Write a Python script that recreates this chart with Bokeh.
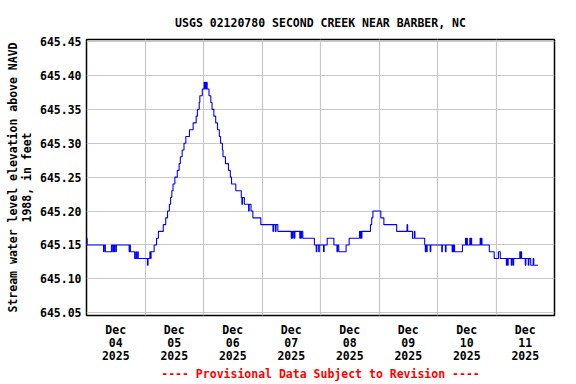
from bokeh.plotting import figure
from bokeh.models import Range1d, FixedTicker, PrintfTickFormatter
from bokeh.embed import file_html
from bokeh.resources import INLINE

# Hours after Dec 04 2025 00:00 at which the gauge reading changes, and the reading (ft)
step_hours = [
    0, 0.25, 7.0, 7.25, 7.75, 10.25, 10.75, 11.0, 11.25, 11.5, 12.0, 12.25,
    17.5, 17.75, 18.0, 19.75, 20.25, 20.5, 21.0, 21.25, 25.0, 25.25, 26.0, 26.25,
    26.5, 27.75, 28.75, 29.5, 31.5, 32.5, 33.25, 34.0, 34.5, 35.0, 35.5, 36.25,
    37.25, 38.0, 38.5, 39.25, 40.0, 40.75, 42.25, 43.75, 45.0, 45.5, 46.25, 46.5,
    47.5, 48.25, 48.5, 48.75, 49.0, 49.25, 49.5, 50.25, 51.0, 51.5, 52.25, 53.0,
    53.75, 54.5, 55.0, 55.75, 56.0, 57.0, 58.25, 59.0, 59.5, 61.25, 63.5, 63.75,
    64.0, 64.75, 66.5, 66.75, 67.5, 68.25, 71.5, 76.5, 76.75, 77.5, 77.75, 78.5,
    84.0, 84.25, 84.5, 84.75, 85.25, 85.5, 87.5, 87.75, 88.0, 88.25, 88.75, 93.5,
    94.25, 94.5, 95.25, 95.5, 97.25, 97.5, 98.75, 101.5, 102.75, 103.0, 103.5, 106.5,
    107.75, 112.0, 112.25, 112.5, 112.75, 113.0, 116.5, 117.0, 117.5, 120.75, 122.0, 127.25,
    131.5, 131.75, 133.75, 134.5, 134.75, 138.75, 139.0, 139.25, 139.5, 139.75, 141.0, 141.25,
    145.75, 146.0, 147.25, 147.5, 150.0, 150.25, 150.5, 150.75, 151.0, 154.25, 155.5, 155.75,
    156.0, 156.25, 157.25, 157.5, 157.75, 158.0, 161.5, 161.75, 162.0, 162.25, 165.25, 167.25,
    169.0, 169.75, 172.25, 172.5, 172.75, 173.0, 174.25, 174.5, 175.0, 175.25, 177.75, 178.0,
    178.25, 178.5, 180.0, 180.25, 181.25, 181.5, 182.25, 183.25, 183.5,
]
step_levels = [
    645.16, 645.15, 645.14, 645.15, 645.14, 645.15, 645.14, 645.15, 645.14, 645.15, 645.14, 645.15,
    645.14, 645.15, 645.14, 645.13, 645.14, 645.13, 645.14, 645.13, 645.12, 645.13, 645.14, 645.13,
    645.14, 645.15, 645.16, 645.17, 645.18, 645.19, 645.20, 645.21, 645.22, 645.23, 645.24, 645.25,
    645.26, 645.27, 645.28, 645.29, 645.30, 645.31, 645.32, 645.33, 645.34, 645.35, 645.36, 645.37,
    645.38, 645.39, 645.38, 645.39, 645.38, 645.39, 645.38, 645.37, 645.36, 645.35, 645.34, 645.33,
    645.32, 645.31, 645.30, 645.29, 645.28, 645.27, 645.26, 645.25, 645.24, 645.23, 645.22, 645.21,
    645.22, 645.21, 645.20, 645.21, 645.20, 645.19, 645.18, 645.17, 645.18, 645.17, 645.18, 645.17,
    645.16, 645.17, 645.16, 645.17, 645.16, 645.17, 645.16, 645.17, 645.16, 645.17, 645.16, 645.15,
    645.14, 645.15, 645.14, 645.15, 645.14, 645.15, 645.16, 645.15, 645.14, 645.15, 645.14, 645.15,
    645.16, 645.17, 645.16, 645.17, 645.16, 645.17, 645.18, 645.19, 645.20, 645.19, 645.18, 645.17,
    645.18, 645.17, 645.16, 645.17, 645.16, 645.15, 645.14, 645.15, 645.14, 645.15, 645.14, 645.15,
    645.14, 645.15, 645.14, 645.15, 645.14, 645.15, 645.14, 645.15, 645.14, 645.15, 645.16, 645.15,
    645.16, 645.15, 645.16, 645.15, 645.16, 645.15, 645.16, 645.15, 645.16, 645.15, 645.14, 645.13,
    645.14, 645.13, 645.12, 645.13, 645.12, 645.13, 645.12, 645.13, 645.12, 645.13, 645.14, 645.13,
    645.14, 645.13, 645.12, 645.13, 645.12, 645.13, 645.12, 645.13, 645.12,
]
last_hour = 185.25

day_label_hours = [12, 36, 60, 84, 108, 132, 156, 180]
day_labels = ["Dec\n04\n2025", "Dec\n05\n2025", "Dec\n06\n2025", "Dec\n07\n2025",
              "Dec\n08\n2025", "Dec\n09\n2025", "Dec\n10\n2025", "Dec\n11\n2025"]
midnight_hours = [0, 24, 48, 72, 96, 120, 144, 168, 192]
y_ticks = [645.05, 645.10, 645.15, 645.20, 645.25, 645.30, 645.35, 645.40, 645.45]

title_text = "USGS 02120780 SECOND CREEK NEAR BARBER, NC"
y_label = "Stream water level elevation above NAVD\n1988, in feet"
footer = "---- Provisional Data Subject to Revision ----"

FONT = "DejaVu Sans Mono"
FS = "11.5px"

xs = step_hours + [last_hour]
ys = step_levels + [step_levels[-1]]

p = figure(width=576, height=384, output_backend="svg", toolbar_location=None,
           x_range=Range1d(0, 192), y_range=Range1d(645.046, 645.453),
           min_border_left=86, min_border_right=22, min_border_top=39, min_border_bottom=68,
           title=title_text, background_fill_color="white", border_fill_color="white")

p.step(xs, ys, mode="after", line_color="#0000ff", line_width=1.1)

p.title.align = "center"
p.title.text_font = FONT
p.title.text_font_size = FS
p.title.text_font_style = "bold"
p.title.text_color = "black"
p.title.standoff = 19

p.outline_line_color = "black"
p.outline_line_width = 1.5

for ax in (p.xaxis[0], p.yaxis[0]):
    ax.axis_line_color = None
    ax.major_tick_line_color = None
    ax.minor_tick_line_color = None
    ax.major_tick_out = 0
    ax.major_tick_in = 0
    ax.minor_tick_out = 0
    ax.minor_tick_in = 0
    ax.major_label_text_font = FONT
    ax.major_label_text_font_size = FS
    ax.major_label_text_font_style = "bold"
    ax.major_label_text_color = "black"
    ax.axis_label_text_font = FONT
    ax.axis_label_text_font_size = FS
    ax.axis_label_text_font_style = "bold"

p.xaxis.ticker = FixedTicker(ticks=day_label_hours, minor_ticks=[])
p.xaxis.major_label_overrides = dict(zip(day_label_hours, day_labels))
p.xaxis.major_label_text_line_height = 0.95
p.xaxis.major_label_standoff = 7
p.xaxis.axis_label = footer
p.xaxis.axis_label_text_color = "#ff0000"
p.xaxis.axis_label_standoff = 1

p.yaxis.ticker = FixedTicker(ticks=y_ticks, minor_ticks=[])
p.yaxis.formatter = PrintfTickFormatter(format="%.2f")
p.yaxis.major_label_standoff = 5
p.yaxis.axis_label = y_label
p.yaxis.axis_label_text_color = "black"
p.yaxis.axis_label_standoff = 3
p.yaxis.axis_label_text_line_height = 1.0

p.xgrid.ticker = FixedTicker(ticks=midnight_hours, minor_ticks=[])
p.ygrid.ticker = FixedTicker(ticks=y_ticks, minor_ticks=[])
for g in (p.xgrid[0], p.ygrid[0]):
    g.grid_line_color = "#c8c8c8"
    g.grid_line_width = 1.2

open("out.html", "w").write(file_html(p, INLINE))
